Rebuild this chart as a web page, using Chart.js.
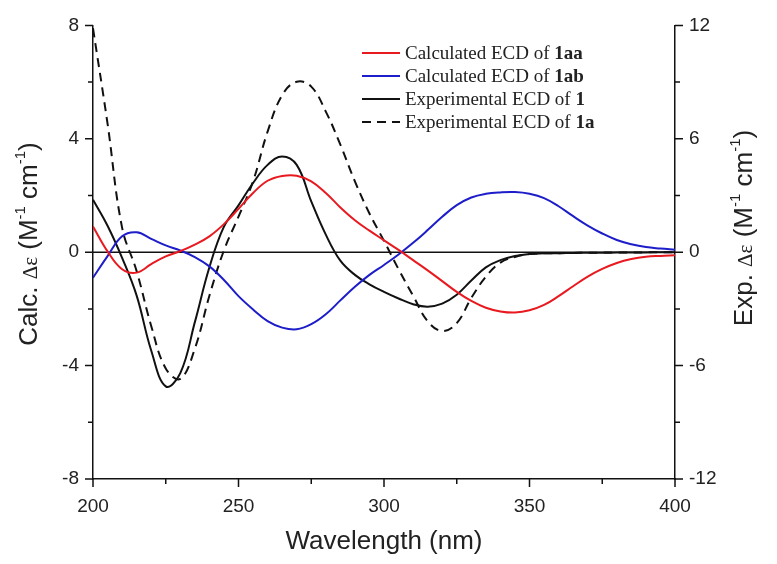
<!DOCTYPE html>
<html>
<head>
<meta charset="utf-8">
<script src="https://cdn.jsdelivr.net/npm/chart.js@4.4.0/dist/chart.umd.min.js"></script>
<style>
  html, body { margin: 0; padding: 0; background: #fff; }
  #wrap { width: 777px; height: 564px; position: relative; }
</style>
</head>
<body>
<div id="wrap"><canvas id="ecdChart"></canvas></div>
<script>
// wavelengths (nm)
const wavelengths = [200, 205, 210, 215, 220, 225, 230, 235, 240, 245,
                     250, 255, 260, 265, 270, 275, 280, 285, 290, 295,
                     300, 305, 310, 315, 320, 325, 330, 335, 340, 345,
                     350, 355, 360, 365, 370, 375, 380, 385, 390, 395, 400];

// calculated ECD (left axis)
const calc1aa = [0.91, 0.03, -0.6, -0.72, -0.42, -0.15, 0.04, 0.27, 0.56, 0.99,
                 1.53, 2.09, 2.52, 2.69, 2.7, 2.5, 2.09, 1.58, 1.13, 0.76,
                 0.42, 0.08, -0.28, -0.64, -1.02, -1.4, -1.72, -1.96, -2.09, -2.13,
                 -2.05, -1.86, -1.55, -1.2, -0.86, -0.59, -0.38, -0.24, -0.16, -0.13, -0.11];
const calc1ab = [-0.9, -0.14, 0.56, 0.7, 0.47, 0.24, 0.06, -0.17, -0.5, -0.98,
                 -1.55, -2.02, -2.43, -2.66, -2.72, -2.54, -2.19, -1.7, -1.22, -0.8,
                 -0.45, -0.08, 0.33, 0.78, 1.25, 1.66, 1.93, 2.06, 2.11, 2.12,
                 2.06, 1.91, 1.62, 1.27, 0.94, 0.66, 0.43, 0.28, 0.18, 0.13, 0.09];

// experimental ECD (right axis)
const exp1 = [2.78, 1.4, -0.3, -2.3, -5.2, -7.1, -6.4, -3.7, -0.8, 1.35,
              2.48, 3.66, 4.62, 5.07, 4.62, 2.69, 0.93, -0.45, -1.2, -1.7,
              -2.1, -2.45, -2.75, -2.88, -2.72, -2.25, -1.5, -0.8, -0.42, -0.2,
              -0.09, -0.06, -0.05, -0.04, -0.03, -0.03, -0.02, -0.02, -0.01, 0, 0];
const exp1a = [11.85, 6.8, 1.3, -1.0, -3.9, -6.15, -6.7, -5.1, -2.3, 0.1,
               1.88, 3.75, 6.38, 8.31, 9.02, 8.76, 7.44, 5.69, 3.75, 2.05,
               0.6, -0.9, -2.3, -3.65, -4.17, -3.75, -2.42, -1.3, -0.55, -0.25,
               -0.1, -0.06, -0.05, -0.04, -0.03, -0.02, -0.02, -0.01, -0.01, 0, 0];

const xMajor = [200, 250, 300, 350, 400];
const xMinor = [225, 275, 325, 375];
const yMajor = [-8, -4, 0, 4, 8];
const yMinor = [-6, -2, 2, 6];
const y2Major = [-12, -6, 0, 6, 12];
const y2Minor = [-9, -3, 3, 9];

const SANS = '"Liberation Sans", Arial, sans-serif';
const SERIF = '"Liberation Serif", "Times New Roman", serif';

const legendItems = [
    { color: '#e8191f', dash: [], text: 'Calculated ECD of ', bold: '1aa' },
    { color: '#1d1dc9', dash: [], text: 'Calculated ECD of ', bold: '1ab' },
    { color: '#111', dash: [], text: 'Experimental ECD of ', bold: '1' },
    { color: '#111', dash: [9, 6], text: 'Experimental ECD of ', bold: '1a' }
];

function pts(ys) {
    return wavelengths.map((x, i) => ({ x: x, y: ys[i] }));
}

// draw text made of several pieces (different fonts / superscripts), centred at 0,0
function drawRich(ctx, parts) {
    let total = 0;
    parts.forEach(p => { ctx.font = p.font; total += ctx.measureText(p.t).width; });
    let x = -total / 2;
    ctx.textAlign = 'left';
    ctx.textBaseline = 'middle';
    parts.forEach(p => {
        ctx.font = p.font;
        ctx.fillText(p.t, x, p.dy || 0);
        x += ctx.measureText(p.t).width;
    });
}

function titleParts(first) {
    const big = '26px ' + SANS;
    const sup = '15px ' + SANS;
    return [
        { t: first, font: big },
        { t: 'Δε', font: '21px ' + SERIF, dy: 1 },
        { t: ' (M', font: big },
        { t: '-1', font: sup, dy: -9 },
        { t: ' cm', font: big },
        { t: '-1', font: sup, dy: -9 },
        { t: ')', font: big }
    ];
}

const framePlugin = {
    id: 'frame',
    beforeDatasetsDraw(chart) {
        const { ctx, chartArea } = chart;
        const y0 = chart.scales.y.getPixelForValue(0);
        ctx.save();
        ctx.strokeStyle = '#111';
        ctx.lineWidth = 1.5;
        ctx.beginPath();
        ctx.moveTo(chartArea.left, y0);
        ctx.lineTo(chartArea.right, y0);
        ctx.stroke();
        ctx.restore();
    },
    afterDraw(chart) {
        const { ctx, chartArea } = chart;
        const sx = chart.scales.x, sy = chart.scales.y, sy2 = chart.scales.y2;
        ctx.save();
        ctx.strokeStyle = '#111';
        ctx.lineWidth = 1.5;
        ctx.beginPath();
        const tick = (vals, len) => {
            vals.forEach(v => {
                const px = sx.getPixelForValue(v);
                ctx.moveTo(px, chartArea.bottom);
                ctx.lineTo(px, chartArea.bottom + len);
            });
        };
        tick(xMajor, 8); tick(xMinor, 5);
        yMajor.forEach(v => { const p = sy.getPixelForValue(v); ctx.moveTo(chartArea.left, p); ctx.lineTo(chartArea.left - 8, p); });
        yMinor.forEach(v => { const p = sy.getPixelForValue(v); ctx.moveTo(chartArea.left, p); ctx.lineTo(chartArea.left - 5, p); });
        y2Major.forEach(v => { const p = sy2.getPixelForValue(v); ctx.moveTo(chartArea.right, p); ctx.lineTo(chartArea.right + 8, p); });
        y2Minor.forEach(v => { const p = sy2.getPixelForValue(v); ctx.moveTo(chartArea.right, p); ctx.lineTo(chartArea.right + 5, p); });
        ctx.stroke();

        // legend
        legendItems.forEach((it, i) => {
            const y = 53 + i * 23;
            ctx.strokeStyle = it.color;
            ctx.lineWidth = 2;
            ctx.setLineDash(it.dash);
            ctx.beginPath();
            ctx.moveTo(362, y);
            ctx.lineTo(400, y);
            ctx.stroke();
            ctx.setLineDash([]);
            ctx.fillStyle = '#222';
            ctx.textAlign = 'left';
            ctx.textBaseline = 'middle';
            ctx.font = '19px ' + SERIF;
            ctx.fillText(it.text, 405, y + 1);
            const w = ctx.measureText(it.text).width;
            ctx.font = 'bold 19px ' + SERIF;
            ctx.fillText(it.bold, 405 + w, y + 1);
        });

        // axis titles
        ctx.fillStyle = '#222';
        ctx.save();
        ctx.translate(30, 244);
        ctx.rotate(-Math.PI / 2);
        drawRich(ctx, titleParts('Calc. '));
        ctx.restore();

        ctx.save();
        ctx.translate(745, 228);
        ctx.rotate(-Math.PI / 2);
        drawRich(ctx, titleParts('Exp. '));
        ctx.restore();

        ctx.font = '26px ' + SANS;
        ctx.textAlign = 'center';
        ctx.textBaseline = 'middle';
        ctx.fillText('Wavelength (nm)', (chartArea.left + chartArea.right) / 2, 542);
        ctx.restore();
    }
};

const lineBase = { pointRadius: 0, borderWidth: 2, tension: 0.4, fill: false };

new Chart(document.getElementById('ecdChart'), {
    type: 'line',
    data: {
        datasets: [
            { ...lineBase, label: 'Calculated ECD of 1aa', data: pts(calc1aa), borderColor: '#e8191f', yAxisID: 'y' },
            { ...lineBase, label: 'Calculated ECD of 1ab', data: pts(calc1ab), borderColor: '#1d1dc9', yAxisID: 'y' },
            { ...lineBase, label: 'Experimental ECD of 1', data: pts(exp1), borderColor: '#111', yAxisID: 'y2' },
            { ...lineBase, label: 'Experimental ECD of 1a', data: pts(exp1a), borderColor: '#111', borderDash: [9, 6], yAxisID: 'y2' }
        ]
    },
    options: {
        responsive: true,
        maintainAspectRatio: false,
        animation: false,
        layout: { padding: { top: 24, left: 0, right: 0, bottom: 0 } },
        plugins: { legend: { display: false }, tooltip: { enabled: false } },
        scales: {
            x: {
                type: 'linear', min: 200, max: 400,
                grid: { display: false, drawTicks: false },
                border: { display: true, color: '#111', width: 1.5 },
                ticks: { stepSize: 50, padding: 16, color: '#222', font: { family: SANS, size: 19 } },
                afterFit: s => { s.height = 85; }
            },
            y: {
                position: 'left', min: -8, max: 8,
                grid: { display: false, drawTicks: false },
                border: { display: true, color: '#111', width: 1.5 },
                ticks: { stepSize: 4, padding: 14, color: '#222', font: { family: SANS, size: 19 } },
                afterFit: s => { s.width = 93; }
            },
            y2: {
                position: 'right', min: -12, max: 12,
                grid: { display: false, drawTicks: false },
                border: { display: true, color: '#111', width: 1.5 },
                ticks: { stepSize: 6, padding: 14, color: '#222', font: { family: SANS, size: 19 } },
                afterFit: s => { s.width = 102; }
            }
        }
    },
    plugins: [framePlugin]
});
</script>
</body>
</html>
